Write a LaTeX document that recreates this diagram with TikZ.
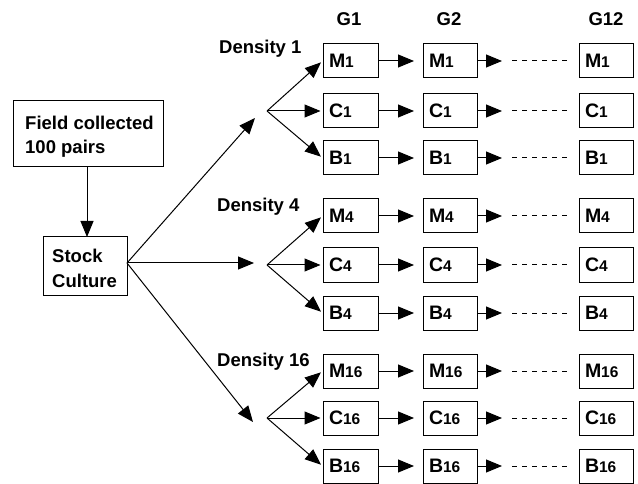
\documentclass[tikz,border=0pt]{standalone}
\usepackage{fontspec}
\setmainfont{Liberation Sans}
\usetikzlibrary{arrows.meta}
\newcommand{\sm}[1]{{\fontsize{15.5}{15.5}\selectfont #1}}
\tikzset{
  lbl/.style={font=\fontsize{18.5}{20}\selectfont\bfseries, inner sep=0pt},
  cell/.style={draw, line width=1pt, minimum height=34pt, inner sep=0pt,
    font=\fontsize{19.5}{20}\selectfont\bfseries},
  gone/.style={cell, minimum width=55pt, text width=43pt, align=left},
  gtwo/.style={cell, minimum width=54pt, text width=42pt, align=left},
  gend/.style={cell, minimum width=54pt, text width=42pt, align=left},
  conn/.style={line width=1pt, -{Triangle[length=16pt,width=13pt]}},
  dots/.style={line width=1pt, dash pattern=on 5pt off 5pt},
}
\begin{document}
\begin{tikzpicture}[x=1pt,y=-1pt]
\useasboundingbox (0,0) rectangle (638,484);
% source boxes
\node[draw, line width=1pt, minimum width=150pt, minimum height=66pt] (field) at (88,133.5) {};
\node[lbl, anchor=west] (ft1) at (25,123) {Field collected};
\node[lbl, anchor=west] (ft2) at (25,149) {100 pairs};
\node[draw, line width=1pt, minimum width=84pt, minimum height=58pt] (stock) at (85,266) {};
\node[lbl, anchor=west] (st1) at (52,256) {Stock};
\node[lbl, anchor=west] (st2) at (52,281) {Culture};
\coordinate (fb) at (87,166.5);
\coordinate (st) at (87,237);
\draw[conn] (fb) -- (st);
\coordinate (so) at (127,263);
% column labels
\node[lbl] (g1) at (349,19) {G1};
\node[lbl] (g2) at (449,19) {G2};
\node[lbl] (g12) at (606,19) {G12};
% density labels
\node[lbl, anchor=west] (d1) at (219,49) {Density 1};
\node[lbl, anchor=west] (d4) at (217,207) {Density 4};
\node[lbl, anchor=west] (d16) at (217,362) {Density 16};
% rows
\foreach \g/\ym/\yc/\yb in {1/61/111/158, 4/216/265/313, 16/371/418/466}{
  \coordinate (fan\g) at (267,\yc);
  \foreach \r/\y in {M/\ym, C/\yc, B/\yb}{
    \node[gone] (\r\g a) at (350.5,\y) {\r\sm{\g}};
    \node[gtwo] (\r\g b) at (450,\y) {\r\sm{\g}};
    \node[gend] (\r\g c) at (606,\y) {\r\sm{\g}};
    \coordinate (\r\g p) at (414,\y);
    \coordinate (\r\g t) at (502,\y);
    \coordinate (\r\g s) at (512,\y);
    \coordinate (\r\g e) at (569,\y);
    \draw[conn] (\r\g a.east) -- (\r\g p);
    \draw[conn] (\r\g b.east) -- (\r\g t);
    \draw[dots] (\r\g s) -- (\r\g e);
    \draw[conn, shorten >=2pt] (fan\g) -- (\r\g a.west);
  }
}
\coordinate (tip1) at (255,118);
\coordinate (tip4) at (254,263);
\coordinate (tip16) at (253,422);
\draw[conn] (so) -- (tip1);
\draw[conn] (so) -- (tip4);
\draw[conn] (so) -- (tip16);
\end{tikzpicture}
\end{document}
